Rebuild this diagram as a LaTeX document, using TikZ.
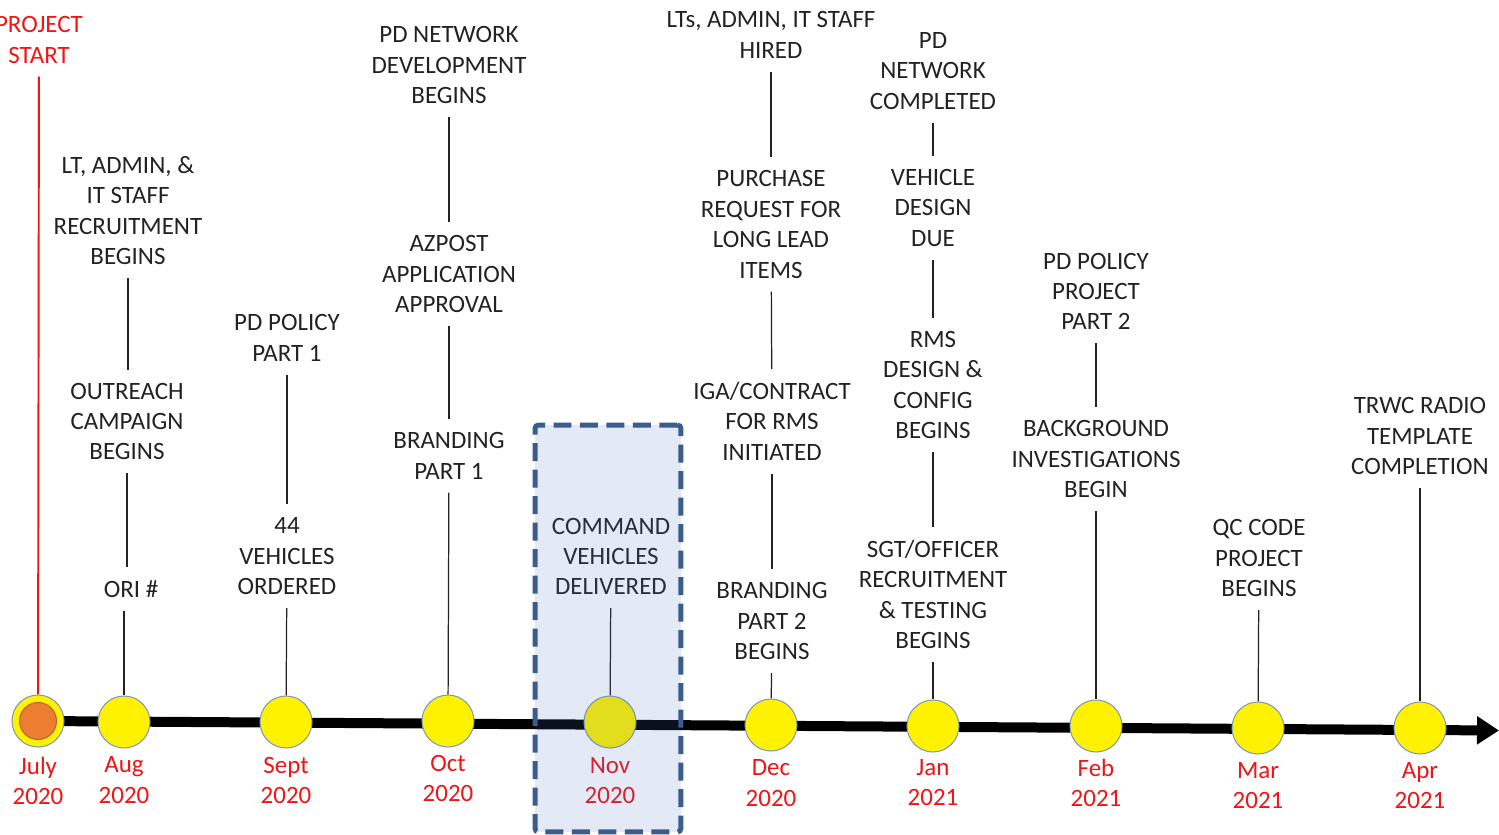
\documentclass[tikz,border=0pt]{standalone}
\usepackage{fontspec}
\setmainfont{Carlito}
\usepackage{tikz}
\usetikzlibrary{arrows.meta,positioning}
\definecolor{ink}{HTML}{222222}
\definecolor{rimblue}{HTML}{7F9AB5}
\definecolor{boxblue}{HTML}{3B5C8E}
\definecolor{tint}{HTML}{4472C4}
\definecolor{coreorange}{HTML}{ED7D31}
\definecolor{corerim}{HTML}{B8652C}
\definecolor{monred}{HTML}{F01414}
\tikzset{
  evt/.style={ align=center, text=ink, inner xsep=2pt, inner ysep=0.26cm,
    font=\fontsize{14.2}{17.3}\selectfont }
}
\tikzset{
  mon/.style={ align=center, text=monred, inner sep=0.1cm,
    font=\fontsize{14.2}{17.3}\selectfont }
}
\tikzset{
  dot/.style={ draw=rimblue, line width=0.6pt, circle, fill=yellow, minimum size=1.04cm, inner sep=0pt }
}
\tikzset{
  core/.style={ draw=corerim, line width=0.6pt, circle, fill=coreorange, minimum size=0.74cm, inner sep=0pt }
}
\tikzset{
  novbox/.style={ draw=boxblue, line width=0.1cm, dash pattern=on 0.36cm off 0.17cm,
    fill=tint, fill opacity=0.15, rounded corners=2pt, minimum width=2.92cm, minimum height=8.14cm }
}

\begin{document}
\begin{tikzpicture}[x=0.02cm, y=-0.02cm]
  \useasboundingbox (0,0) rectangle (1499,835);

  % axis
  \coordinate (axstart) at (38,721);
  \coordinate (tip) at (1499,730.5);
  \draw[line width=0.2cm, -{Triangle[length=0.44cm,width=0.54cm]}] (axstart) -- (tip);

  % months
  \node[dot] (jul) at (38,721) {};
  \node[core] (julcore) at (jul) {};
  \node[dot] (aug) at (124,722) {};
  \node[dot] (sep) at (286,722) {};
  \node[dot] (oct) at (448,721) {};
  \node[dot] (nov) at (610,722) {};
  \node[dot] (dec) at (771,725) {};
  \node[dot] (jan) at (933,726) {};
  \node[dot] (feb) at (1096,726) {};
  \node[dot] (mar) at (1258,728) {};
  \node[dot] (apr) at (1420,728) {};

  \node[mon, below=0.08cm of jul] (lbljul) {July\\2020};
  \node[mon, below=0.06cm of aug] (lblaug) {Aug\\2020};
  \node[mon, below=0.06cm of sep] (lblsep) {Sept\\2020};
  \node[mon, below=0.04cm of oct] (lbloct) {Oct\\2020};
  \node[mon, below=0.07cm of nov] (lblnov) {Nov\\2020};
  \node[mon, below=0.06cm of dec] (lbldec) {Dec\\2020};
  \node[mon, below=0.03cm of jan] (lbljan) {Jan\\2021};
  \node[mon, below=0.02cm of feb] (lblfeb) {Feb\\2021};
  \node[mon, below=0.05cm of mar] (lblmar) {Mar\\2021};
  \node[mon, below=0.05cm of apr] (lblapr) {Apr\\2021};

  % events
  \node[evt, text=monred] (start) at (39,40) {PROJECT\\START};

  \node[evt] (ltrecruit) at (128,210.5) {LT, ADMIN, \&\\IT STAFF\\RECRUITMENT\\BEGINS};
  \node[evt] (outreach) at (127,421.5) {OUTREACH\\CAMPAIGN\\BEGINS};
  \node[evt] (ori) at (131,589) {ORI \#};

  \node[evt] (policy1) at (287,338) {PD POLICY\\PART 1};
  \node[evt] (vehicles) at (287,556.3) {44\\VEHICLES\\ORDERED};

  \node[evt] (netdev) at (449,65.3) {PD NETWORK\\DEVELOPMENT\\BEGINS};
  \node[evt] (azpost) at (449,274.3) {AZPOST\\APPLICATION\\APPROVAL};
  \node[evt] (brand1) at (449,456) {BRANDING\\PART 1};

  \node[evt] (command) at (611,556.3) {COMMAND\\VEHICLES\\DELIVERED};

  \node[evt] (hired) at (771,35) {LTs, ADMIN, IT STAFF\\HIRED};
  \node[evt] (purchase) at (771,224.5) {PURCHASE\\REQUEST FOR\\LONG LEAD\\ITEMS};
  \node[evt] (iga) at (772,421.3) {IGA/CONTRACT\\FOR RMS\\INITIATED};
  \node[evt] (brand2) at (772,621.3) {BRANDING\\PART 2\\BEGINS};

  \node[evt] (netdone) at (933,70.7) {PD\\NETWORK\\COMPLETED};
  \node[evt] (vdesign) at (933,207.7) {VEHICLE\\DESIGN\\DUE};
  \node[evt] (rms) at (933,384.8) {RMS\\DESIGN \&\\CONFIG\\BEGINS};
  \node[evt] (sgt) at (933,594.5) {SGT/OFFICER\\RECRUITMENT\\\& TESTING\\BEGINS};

  \node[evt] (policy2) at (1096,291.3) {PD POLICY\\PROJECT\\PART 2};
  \node[evt] (background) at (1096,459.3) {BACKGROUND\\INVESTIGATIONS\\BEGIN};

  \node[evt] (qccode) at (1259,558.3) {QC CODE\\PROJECT\\BEGINS};

  \node[evt] (trwc) at (1420,436.3) {TRWC RADIO\\TEMPLATE\\COMPLETION};

  \begin{scope}[-]
    \draw[monred, line width=1.1pt] (start) edge (jul);

    \draw[ink, line width=0.7pt] (ltrecruit.south) edge (ltrecruit.south |- outreach.north);
    \draw[ink, line width=0.7pt] (outreach) edge (outreach.north |- ori.north);
    \draw[ink, line width=0.7pt] (ori.south -| aug.north) edge (aug);

    \draw[ink, line width=0.7pt] (policy1) edge (vehicles);
    \draw[ink, line width=0.7pt] (vehicles) edge (sep);

    \draw[ink, line width=0.7pt] (netdev) edge (azpost);
    \draw[ink, line width=0.7pt] (azpost) edge (brand1);
    \draw[ink, line width=0.7pt] (brand1) edge (oct);

    \draw[ink, line width=0.7pt] (command) edge (nov);

    \draw[ink, line width=0.7pt] (hired) edge (purchase);
    \draw[ink, line width=0.7pt] (purchase) edge (iga);
    \draw[ink, line width=0.7pt] (iga) edge (brand2);
    \draw[ink, line width=0.7pt] (brand2) edge (dec);

    \draw[ink, line width=0.7pt] (netdone) edge (vdesign);
    \draw[ink, line width=0.7pt] (vdesign) edge (rms);
    \draw[ink, line width=0.7pt] (rms) edge (sgt);
    \draw[ink, line width=0.7pt] (sgt) edge (jan);

    \draw[ink, line width=0.7pt] (policy2) edge (background);
    \draw[ink, line width=0.7pt] (background) edge (feb);

    \draw[ink, line width=0.7pt] (qccode) edge (mar);

    \draw[ink, line width=0.7pt] (trwc) edge (apr);
  \end{scope}

  % highlight over Nov
  \node[novbox] (novframe) at (608,628.5) {};
\end{tikzpicture}
\end{document}
